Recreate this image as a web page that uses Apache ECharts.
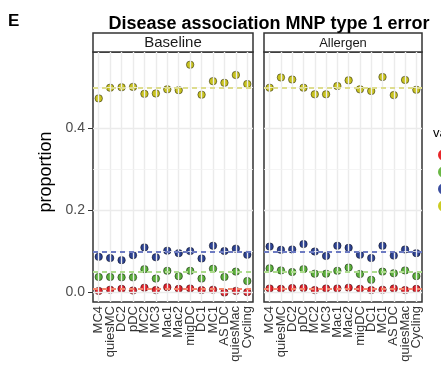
<!DOCTYPE html>
<html>
<head>
<meta charset="utf-8">
<script src="https://cdn.jsdelivr.net/npm/echarts@6/dist/echarts.min.js"></script>
<style>
  html, body { margin: 0; padding: 0; background: #fff; }
  #chart { width: 441px; height: 371px; }
</style>
</head>
<body>
<div id="chart"></div>
<script>
const categories = ['MC4', 'quiesMC', 'DC2', 'pDC', 'MC2', 'MC3', 'Mac1', 'Mac2', 'migDC', 'DC1', 'MC1', 'AS DC', 'quiesMac', 'Cycling']
const levels = ['0.01', '0.05', '0.1', '0.5']
const panels = ['Baseline', 'Allergen']

// Baseline panel
const baseRed = [0.004, 0.007, 0.009, 0.005, 0.012, 0.006, 0.013, 0.009, 0.010, 0.006, 0.007, 0.000, 0.004, 0.001]
const baseGreen = [0.038, 0.038, 0.037, 0.037, 0.057, 0.034, 0.053, 0.040, 0.053, 0.034, 0.058, 0.038, 0.051, 0.028]
const baseBlue = [0.087, 0.084, 0.079, 0.091, 0.110, 0.086, 0.102, 0.096, 0.101, 0.083, 0.114, 0.101, 0.107, 0.092]
const baseYellow = [0.473, 0.499, 0.500, 0.501, 0.484, 0.485, 0.495, 0.493, 0.555, 0.482, 0.515, 0.511, 0.530, 0.508]

// Allergen panel
const allRed = [0.010, 0.009, 0.011, 0.011, 0.006, 0.010, 0.010, 0.012, 0.009, 0.006, 0.007, 0.010, 0.006, 0.009]
const allGreen = [0.059, 0.054, 0.050, 0.057, 0.046, 0.046, 0.053, 0.061, 0.045, 0.031, 0.051, 0.047, 0.054, 0.040]
const allBlue = [0.112, 0.104, 0.105, 0.118, 0.100, 0.089, 0.114, 0.109, 0.092, 0.084, 0.114, 0.090, 0.105, 0.096]
const allYellow = [0.499, 0.524, 0.519, 0.499, 0.483, 0.483, 0.503, 0.517, 0.495, 0.491, 0.525, 0.481, 0.518, 0.494]

const yTicks = [0, 0.2, 0.4]
const yMinor = [0.1, 0.3, 0.5]
const refLines = [0.01, 0.05, 0.1, 0.5]

const chart = echarts.init(document.getElementById('chart'))
const pointColors = ['#e0202a', '#5aae3a', '#2c4191', '#c8c21e']
const legendColors = ['#e8272a', '#6ab845', '#3c4fa0', '#cccc22']
const lineColors = ['#f5866e', '#addb8e', '#6d7bc2', '#dedd8e']
const panelData = [
  [baseRed, baseGreen, baseBlue, baseYellow],
  [allRed, allGreen, allBlue, allYellow]
]
const grids = [
  { left: 93, top: 52, width: 160, height: 250 },
  { left: 264, top: 52, width: 158, height: 250 }
]

// gridlines + dashed reference lines, one helper series per panel
const series = []
panels.forEach((p, gi) => {
  const marks = []
  categories.forEach(c => {
    marks.push({ xAxis: c, lineStyle: { color: '#ebebeb', width: 1.4, type: 'solid' } })
  })
  yMinor.forEach(v => {
    marks.push({ yAxis: v, lineStyle: { color: '#f2f2f2', width: 0.8, type: 'solid' } })
  })
  yTicks.forEach(v => {
    marks.push({ yAxis: v, lineStyle: { color: '#ebebeb', width: 1.4, type: 'solid' } })
  })
  refLines.forEach((v, i) => {
    marks.push({ yAxis: v, lineStyle: { color: lineColors[i], width: 2, type: [5, 4] } })
  })
  series.push({
    type: 'scatter',
    xAxisIndex: gi,
    yAxisIndex: gi,
    data: [],
    z: 1,
    silent: true,
    markLine: {
      silent: true,
      symbol: 'none',
      label: { show: false },
      animation: false,
      data: marks
    }
  })
  panelData[gi].forEach((vals, i) => {
    series.push({
      name: levels[i],
      type: 'scatter',
      xAxisIndex: gi,
      yAxisIndex: gi,
      symbolSize: 7.5,
      z: 3,
      itemStyle: {
        color: pointColors[i],
        opacity: 1,
        borderColor: 'rgba(0,0,0,0.5)',
        borderWidth: 0.9
      },
      data: vals
    })
  })
})

const option = {
  animation: false,
  color: pointColors,
  title: {
    text: 'Disease association MNP type 1 error',
    left: 264,
    textAlign: 'center',
    top: 10,
    textStyle: { fontFamily: 'Liberation Sans', fontWeight: 'bold', fontSize: 18, color: '#000' }
  },
  legend: {
    data: levels.map((n, i) => ({
      name: n,
      itemStyle: { color: legendColors[i], borderWidth: 0 }
    })),
    orient: 'vertical',
    left: 433,
    top: 144,
    icon: 'circle',
    itemWidth: 11,
    itemHeight: 11,
    itemGap: 5,
    selectedMode: false,
    textStyle: { fontFamily: 'Liberation Sans', fontSize: 12, color: '#000' }
  },
  grid: grids.map(g => Object.assign({
    show: true,
    backgroundColor: '#fff',
    borderColor: '#333',
    borderWidth: 1.5
  }, g)),
  xAxis: panels.map((p, gi) => ({
    type: 'category',
    gridIndex: gi,
    data: categories,
    boundaryGap: true,
    axisLine: { show: false },
    axisTick: { show: true, alignWithLabel: true, length: 3, lineStyle: { color: '#333', width: 1 } },
    splitLine: { show: false },
    axisLabel: {
      interval: 0,
      rotate: 90,
      margin: 4,
      fontFamily: 'Liberation Sans',
      fontSize: 13,
      color: '#333'
    }
  })),
  yAxis: panels.map((p, gi) => ({
    type: 'value',
    gridIndex: gi,
    min: -0.023,
    max: 0.586,
    splitLine: { show: false },
    axisLine: { show: false },
    axisTick: { show: gi === 0, customValues: yTicks, length: 5, lineStyle: { color: '#333', width: 1 } },
    axisLabel: {
      show: gi === 0,
      customValues: yTicks,
      margin: 8,
      formatter: v => v.toFixed(1),
      fontFamily: 'Liberation Sans',
      fontSize: 14,
      color: '#4d4d4d'
    }
  })),
  graphic: [
    {
      type: 'text', left: 8, top: 13,
      style: { text: 'E', font: 'bold 17px "Liberation Sans"', fill: '#000' }
    },
    {
      type: 'text', x: 46, y: 172, rotation: Math.PI / 2,
      style: { text: 'proportion', font: '18px "Liberation Sans"', fill: '#000', align: 'center', verticalAlign: 'middle' }
    },
    {
      type: 'rect', shape: { x: 93, y: 33, width: 160, height: 19 },
      style: { fill: '#fff', stroke: '#333', lineWidth: 1.5 }
    },
    {
      type: 'text', x: 173, y: 43,
      style: { text: 'Baseline', font: '15px "Liberation Sans"', fill: '#1a1a1a', align: 'center', verticalAlign: 'middle' }
    },
    {
      type: 'rect', shape: { x: 264, y: 33, width: 158, height: 19 },
      style: { fill: '#fff', stroke: '#333', lineWidth: 1.5 }
    },
    {
      type: 'text', x: 343, y: 43,
      style: { text: 'Allergen', font: '13px "Liberation Sans"', fill: '#1a1a1a', align: 'center', verticalAlign: 'middle' }
    },
    {
      type: 'text', x: 433, y: 133,
      style: { text: 'variable', font: '13px "Liberation Sans"', fill: '#000', verticalAlign: 'middle' }
    }
  ],
  series: series
}
chart.setOption(option)
</script>
</body>
</html>
